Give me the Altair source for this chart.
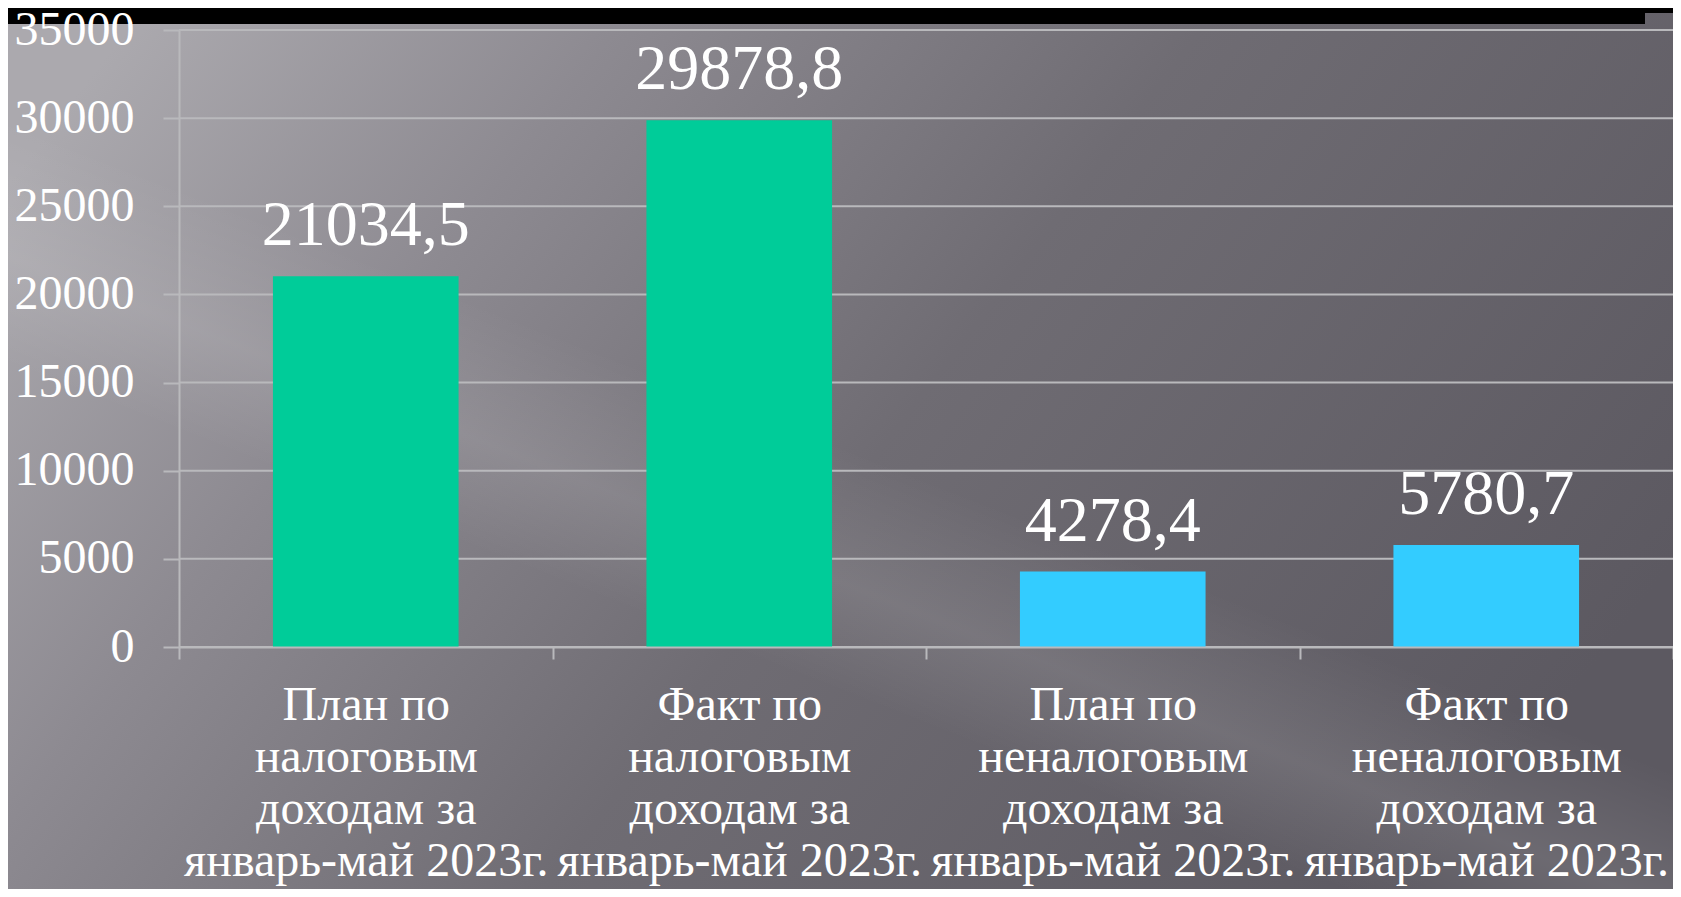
import altair as alt
import pandas as pd

# ---- data ----
categories = [
    "План по\nналоговым\nдоходам за\nянварь-май 2023г.",
    "Факт по\nналоговым\nдоходам за\nянварь-май 2023г.",
    "План по\nненалоговым\nдоходам за\nянварь-май 2023г.",
    "Факт по\nненалоговым\nдоходам за\nянварь-май 2023г.",
]
values = [21034.5, 29878.8, 4278.4, 5780.7]
value_labels = ["21034,5", "29878,8", "4278,4", "5780,7"]
bar_colors = ["#00CC99", "#00CC99", "#33CCFF", "#33CCFF"]
y_ticks = [0, 5000, 10000, 15000, 20000, 25000, 30000, 35000]

W, H = 1494, 617
PAD_L, PAD_T, PAD_B = 171, 22, 242
FONT = "Liberation Serif"
GRID = "#b9b9bc"

df = pd.DataFrame({"cat": categories, "val": values, "lab": value_labels, "col": bar_colors})
grid_df = pd.DataFrame({"g": y_ticks})
one = pd.DataFrame({"a": [0]})

yscale = alt.Scale(domain=[0, 35000], nice=False, zero=True)
xscale = alt.Scale(paddingInner=0, paddingOuter=0)

y_axis = alt.Axis(
    values=y_ticks, format="d", labelFont=FONT, labelFontSize=48,
    labelColor="#ffffff", labelPadding=29, tickSize=16, tickColor=GRID,
    tickWidth=2, domainColor=GRID, domainWidth=2, grid=False, zindex=1,
    labelBaseline="middle", labelBound=False, labelFlush=False,
)
x_axis = alt.Axis(
    labelExpr="split(datum.label, '\\n')",
    labelAngle=0, labelFont=FONT, labelFontSize=48, labelColor="#ffffff",
    labelLineHeight=52, labelBaseline="alphabetic", labelPadding=60,
    labelLimit=0, labelOverlap=False, labelBound=False, labelFlush=False,
    tickBand="extent", tickSize=12, tickColor=GRID, tickWidth=2,
    domainColor=GRID, domainWidth=2, grid=False, zindex=1,
)

bg = alt.Chart(one).mark_rect(
    clip=False,
    fill=alt.Gradient(
        gradient="linear",
        stops=[
            alt.GradientStop(color="#aba9ae", offset=0.0),
            alt.GradientStop(color="#8d8a91", offset=0.25),
            alt.GradientStop(color="#6f6c73", offset=0.55),
            alt.GradientStop(color="#5c5961", offset=1.0),
        ],
        x1=0, y1=0.2, x2=1, y2=0.6,
    ),
).encode(
    x=alt.value(-PAD_L), x2=alt.value(W + 20),
    y=alt.value(-PAD_T), y2=alt.value(H + PAD_B),
)

streak = alt.Chart(one).mark_rect(
    clip=False,
    fill=alt.Gradient(
        gradient="linear",
        stops=[
            alt.GradientStop(color="rgba(255,255,255,0)", offset=0.0),
            alt.GradientStop(color="rgba(255,255,255,0)", offset=0.38),
            alt.GradientStop(color="rgba(255,255,255,0.10)", offset=0.46),
            alt.GradientStop(color="rgba(255,255,255,0)", offset=0.56),
            alt.GradientStop(color="rgba(255,255,255,0)", offset=1.0),
        ],
        x1=0, y1=1, x2=0.75, y2=0,
    ),
).encode(
    x=alt.value(-PAD_L), x2=alt.value(W + 20),
    y=alt.value(-PAD_T), y2=alt.value(H + PAD_B),
)

band_top = alt.Chart(one).mark_rect(clip=False, color="#000000").encode(
    x=alt.value(-PAD_L), x2=alt.value(W + 20),
    y=alt.value(-PAD_T), y2=alt.value(-PAD_T + 5),
)
band_main = alt.Chart(one).mark_rect(clip=False, color="#000000").encode(
    x=alt.value(-PAD_L), x2=alt.value(W - 28),
    y=alt.value(-PAD_T), y2=alt.value(-6),
)

grid = alt.Chart(grid_df).mark_rule(color=GRID, strokeWidth=2).encode(
    y=alt.Y("g:Q", scale=yscale, axis=y_axis, title=None)
)

bars = alt.Chart(df).mark_bar(width=alt.RelativeBandSize(0.497)).encode(
    x=alt.X("cat:N", sort=None, scale=xscale, title=None, axis=x_axis),
    y=alt.Y("val:Q", scale=yscale, title=None, axis=y_axis),
    color=alt.Color("col:N", scale=None, legend=None),
)

text = alt.Chart(df).mark_text(
    font=FONT, fontSize=64, color="#ffffff", baseline="middle", dy=-50
).encode(
    x=alt.X("cat:N", sort=None, scale=xscale, title=None, axis=x_axis),
    y=alt.Y("val:Q", scale=yscale, title=None, axis=y_axis),
    text="lab:N",
)

chart = alt.layer(bg, streak, band_top, band_main, grid, bars, text).properties(
    width=W, height=H,
    autosize=alt.AutoSizeParams(type="none"),
    padding={"left": PAD_L, "top": PAD_T, "right": 0, "bottom": PAD_B},
    background="#6e6b72",
).configure_view(stroke=None)

chart.save("out.html", embed_options={"renderer": "svg", "actions": False})
